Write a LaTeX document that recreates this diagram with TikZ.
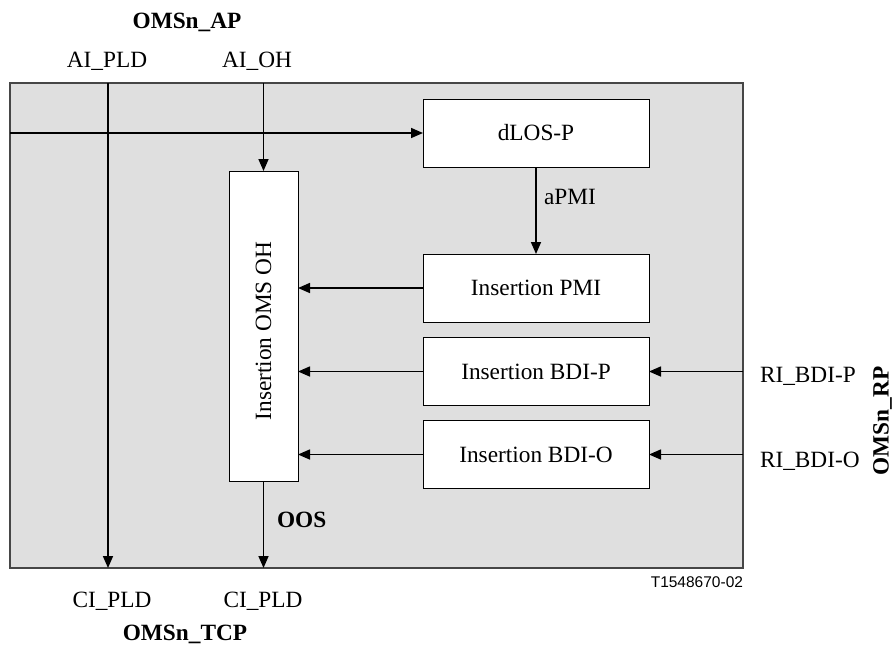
\documentclass[tikz,border=0pt]{standalone}
\usepackage{fontspec}
\setmainfont{Liberation Serif}
\newfontfamily\tagfont{Liberation Sans}
\usetikzlibrary{arrows.meta}
\definecolor{bggray}{RGB}{223,223,223}
\definecolor{frm}{RGB}{70,70,70}
\begin{document}
\begin{tikzpicture}[x=1pt,y=-1pt,
  every node/.style={font=\fontsize{23.3}{28}\selectfont, inner sep=0pt, outer sep=0pt},
  blk/.style={draw=black, line width=1pt, fill=white, minimum width=226pt, minimum height=68pt},
  conn/.style={line width=1.6pt, -{Triangle[length=12pt,width=10pt]}},
  boldlbl/.style={font=\fontsize{23.3}{28}\selectfont\bfseries}]
\useasboundingbox (0,0) rectangle (895,646);
% frame
\node[draw=frm, line width=1.2pt, fill=bggray, minimum width=733pt, minimum height=485pt, anchor=north west] (frame) at (10,83) {};
% blocks
\node[blk] (dlos) at (536,133) {dLOS-P};
\node[blk] (pmi) at (536,288) {Insertion PMI};
\node[blk] (bdip) at (536,371.5) {Insertion BDI-P};
\node[blk] (bdio) at (536,454.5) {Insertion BDI-O};
\node[blk, minimum width=69pt, minimum height=310pt] (oh) at (263.5,326) {};
\node[rotate=90] (ohtxt) at (263.5,331) {Insertion OMS OH};
% free ends
\coordinate (pldtop) at (108,83);
\coordinate (pldbot) at (108,568);
\coordinate (ohtop) at (263.5,83);
\coordinate (ohbot) at (263.5,568);
\coordinate (losin) at (10,133);
\coordinate (rip) at (743,371.5);
\coordinate (rio) at (743,454.5);
% connectors
\draw[conn] (pldtop) -- (pldbot);
\draw[conn] (ohtop) -- (oh.north);
\draw[conn] (oh.south) -- (ohbot);
\draw[conn] (losin) -- (dlos.west);
\draw[conn] (dlos.south) -- (pmi.north);
\draw[conn] (pmi.west) -- (pmi.west -| oh.east);
\draw[conn] (bdip.west) -- (bdip.west -| oh.east);
\draw[conn] (bdio.west) -- (bdio.west -| oh.east);
\draw[conn] (rip) -- (bdip.east);
\draw[conn] (rio) -- (bdio.east);
% labels
\node[boldlbl, anchor=base] (ap) at (187,28) {OMSn\_AP};
\node[anchor=base] (aipld) at (107,67) {AI\_PLD};
\node[anchor=base] (aioh) at (257,67) {AI\_OH};
\node[anchor=base] (cipld1) at (112,607) {CI\_PLD};
\node[anchor=base] (cipld2) at (263,607) {CI\_PLD};
\node[boldlbl, anchor=base] (tcp) at (185,640) {OMSn\_TCP};
\node[anchor=base west] (ribdip) at (760,382) {RI\_BDI-P};
\node[anchor=base west] (ribdio) at (760,467) {RI\_BDI-O};
\node[boldlbl, rotate=90, anchor=base] (rp) at (888.5,421) {OMSn\_RP};
\node[anchor=west] (apmi) at (544,197) {aPMI};
\node[boldlbl, anchor=west] (oos) at (277,520) {OOS};
\node[font=\tagfont\fontsize{15.5}{18}\selectfont, anchor=base east] (tag) at (743,587) {T1548670-02};
\end{tikzpicture}
\end{document}
